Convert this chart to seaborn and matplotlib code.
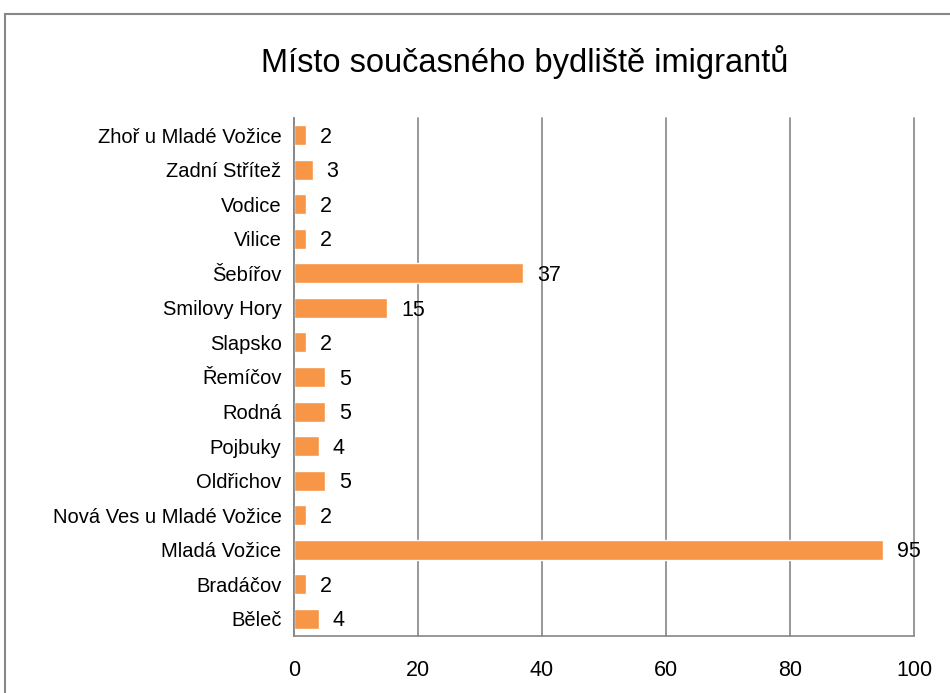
import matplotlib.pyplot as plt
import seaborn as sns
import pandas as pd
from matplotlib.patches import Rectangle

# Data (top to bottom)
places = ['Zhoř u Mladé Vožice', 'Zadní Střítež', 'Vodice', 'Vilice', 'Šebířov',
          'Smilovy Hory', 'Slapsko', 'Řemíčov', 'Rodná', 'Pojbuky', 'Oldřichov',
          'Nová Ves u Mladé Vožice', 'Mladá Vožice', 'Bradáčov', 'Běleč']
counts = [2, 3, 2, 2, 37, 15, 2, 5, 5, 4, 5, 2, 95, 2, 4]
x_ticks = [0, 20, 40, 60, 80, 100]

df = pd.DataFrame({'Místo': places, 'Počet': counts})

sns.set_style('white')
plt.rcParams['font.family'] = ['Liberation Sans', 'DejaVu Sans']
plt.rcParams['text.color'] = 'black'
plt.rcParams['xtick.color'] = 'black'
plt.rcParams['ytick.color'] = 'black'

fig = plt.figure(figsize=(9.5, 6.93), dpi=100)
ax = fig.add_axes([0.3095, 0.0823, 0.6526, 0.7474])

sns.barplot(data=df, x='Počet', y='Místo', color='#F79646', saturation=1,
            width=0.58, ax=ax, orient='h')

# value labels right of each bar
for i, v in enumerate(counts):
    ax.annotate(str(v), (v, i), xytext=(10, -1.5), textcoords='offset points',
                va='center', ha='left', fontsize=15.5, color='black')

ax.set_xlim(0, 100)
ax.set_ylim(len(places) - 0.5, -0.5)
ax.set_xticks(x_ticks)
ax.set_xticklabels([str(t) for t in x_ticks], fontsize=15.5)
ax.tick_params(axis='x', length=0, pad=17)
ax.tick_params(axis='y', length=0, pad=9, labelsize=14.5)
ax.set_xlabel('')
ax.set_ylabel('')
ax.xaxis.grid(True, color='#868686', linewidth=1.2)
for gl in ax.get_xgridlines():
    gl.set_clip_on(False)
ax.set_axisbelow(True)
for s in ['top', 'right']:
    ax.spines[s].set_visible(False)
for s in ['left', 'bottom']:
    ax.spines[s].set_color('#868686')
    ax.spines[s].set_linewidth(1.2)

fig.text(0.552, 0.91, 'Místo současného bydliště imigrantů', ha='center',
         va='center', fontsize=23.5)

# outer chart frame
fig.patches.append(Rectangle((5 / 950, -0.05), 1.1, 1.05 - 14 / 693,
                             transform=fig.transFigure, fill=False,
                             edgecolor='#888888', linewidth=1.5))

fig.savefig('out.png', dpi=100)
